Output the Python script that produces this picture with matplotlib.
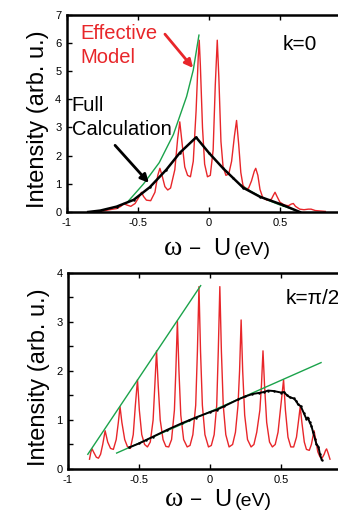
import matplotlib
matplotlib.use("Agg")
import matplotlib.pyplot as plt

plt.rcParams['font.family'] = ['Liberation Sans', 'DejaVu Sans']
plt.rcParams['axes.unicode_minus'] = False

RED = '#e8262a'
GREEN = '#1ba34b'

# ---- k = 0 panel ----
k0_eff_x = [-0.85, -0.75, -0.70, -0.65, -0.62, -0.60, -0.58, -0.55, -0.52, -0.49, -0.475,
            -0.46, -0.44, -0.41, -0.38, -0.36, -0.345, -0.33, -0.31, -0.29, -0.27, -0.24,
            -0.22, -0.205, -0.19, -0.17, -0.15, -0.13, -0.11, -0.09, -0.075, -0.068, -0.06,
            -0.045, -0.03, -0.01, 0.01, 0.03, 0.045, 0.059, 0.07, 0.085, 0.10, 0.12, 0.14,
            0.16, 0.18, 0.195, 0.21, 0.225, 0.24, 0.26, 0.28, 0.30, 0.32, 0.33, 0.345, 0.36,
            0.38, 0.41, 0.44, 0.455, 0.466, 0.48, 0.50, 0.53, 0.56, 0.58, 0.595, 0.61, 0.64,
            0.67, 0.70, 0.72, 0.75, 0.82]
k0_eff_y = [0.0, 0.03, 0.08, 0.12, 0.2, 0.3, 0.25, 0.2, 0.3, 0.55, 0.7,
            0.55, 0.42, 0.4, 0.7, 1.3, 1.55, 1.3, 0.9, 0.78, 0.85, 1.5,
            2.6, 3.2, 2.5, 1.6, 1.3, 1.25, 1.8, 3.6, 5.5, 6.1, 5.2,
            3.0, 1.7, 1.25, 1.3, 2.2, 4.5, 6.1, 4.8, 2.5, 1.6, 1.3, 1.35,
            1.8, 2.7, 3.25, 2.4, 1.4, 0.95, 0.8, 0.85, 1.1, 1.45, 1.55, 1.3, 0.8,
            0.5, 0.42, 0.45, 0.6, 0.7, 0.55, 0.35, 0.25, 0.22, 0.28, 0.3, 0.2, 0.1,
            0.08, 0.1, 0.1, 0.05, 0.02]

k0_full_x = [-0.85, -0.765, -0.65, -0.53, -0.416, -0.3, -0.205, -0.09, 0.0, 0.1, 0.172,
             0.242, 0.36, 0.52, 0.64]
k0_full_y = [0.0, 0.05, 0.19, 0.43, 0.88, 1.5, 2.1, 2.65, 2.1, 1.55, 1.2,
             0.86, 0.54, 0.25, 0.0]

k0_env_left_x = [-0.57, -0.46, -0.35, -0.25, -0.157, -0.11, -0.07]
k0_env_left_y = [0.37, 1.0, 1.75, 2.75, 4.1, 5.04, 6.28]
k0_env_right_x = [0.23, 0.3, 0.4, 0.5, 0.6]
k0_env_right_y = [0.95, 0.72, 0.45, 0.25, 0.08]

# ---- k = pi/2 panel ----
k2_eff_x = [-0.848, -0.838, -0.83, -0.82, -0.80, -0.785, -0.77, -0.755, -0.738, -0.72, -0.70,
            -0.68, -0.66, -0.645, -0.633, -0.62, -0.60, -0.58, -0.56, -0.54, -0.525, -0.51,
            -0.497, -0.48, -0.46, -0.44, -0.42, -0.40, -0.388, -0.376, -0.364, -0.35, -0.33,
            -0.31, -0.29, -0.27, -0.25, -0.24, -0.229, -0.218, -0.205, -0.185, -0.16, -0.14,
            -0.12, -0.10, -0.088, -0.077, -0.066, -0.053, -0.035, -0.01, 0.01, 0.03, 0.048,
            0.059, 0.07, 0.081, 0.094, 0.112, 0.135, 0.16, 0.18, 0.198, 0.209, 0.22, 0.231,
            0.245, 0.265, 0.29, 0.31, 0.33, 0.352, 0.363, 0.374, 0.385, 0.40, 0.42, 0.44,
            0.46, 0.48, 0.50, 0.519, 0.532, 0.55, 0.57, 0.59, 0.61, 0.625, 0.636, 0.648,
            0.665, 0.68, 0.70, 0.715, 0.725, 0.734, 0.745, 0.76, 0.775, 0.79, 0.805, 0.815,
            0.822, 0.832, 0.846]
k2_eff_y = [0.2, 0.35, 0.41, 0.35, 0.24, 0.22, 0.3, 0.5, 0.78, 0.55, 0.42,
            0.4, 0.6, 0.95, 1.27, 0.95, 0.6, 0.45, 0.42, 0.7, 1.3, 1.82,
            1.2, 0.7, 0.5, 0.45, 0.55, 1.0, 1.7, 2.41, 1.7, 1.0, 0.6,
            0.46, 0.45, 0.6, 1.2, 2.0, 3.02, 2.0, 1.1, 0.6, 0.45, 0.48,
            0.7, 1.3, 2.4, 3.72, 2.4, 1.3, 0.7, 0.45, 0.48, 0.7, 1.3,
            2.4, 3.72, 2.4, 1.3, 0.7, 0.45, 0.5, 0.75, 1.3, 2.0, 3.04, 2.0,
            1.1, 0.6, 0.45, 0.5, 0.75, 1.2, 1.7, 2.41, 1.7, 0.95, 0.55, 0.45,
            0.5, 0.75, 1.3, 1.82, 1.2, 0.65, 0.45, 0.45, 0.65, 1.0, 1.27, 0.95,
            0.55, 0.4, 0.38, 0.5, 0.65, 0.78, 0.6, 0.35, 0.25, 0.22, 0.3, 0.38,
            0.41, 0.33, 0.2]

k2_full_x = [-0.568, -0.5, -0.45, -0.4, -0.3, -0.2, -0.15, -0.1, 0.0, 0.05, 0.1, 0.2,
             0.25, 0.3, 0.343, 0.38, 0.41, 0.45, 0.5, 0.52, 0.545, 0.565, 0.59, 0.61,
             0.62, 0.64, 0.66, 0.68, 0.69, 0.703, 0.715, 0.727, 0.74, 0.75, 0.765,
             0.775, 0.787]
k2_full_y = [0.44, 0.52, 0.59, 0.66, 0.8, 0.93, 0.99, 1.05, 1.16, 1.21, 1.28, 1.42,
             1.48, 1.53, 1.55, 1.57, 1.6, 1.59, 1.56, 1.57, 1.5, 1.46, 1.44, 1.38,
             1.32, 1.28, 1.15, 1.02, 1.05, 0.95, 0.88, 0.75, 0.62, 0.51, 0.45,
             0.3, 0.19]

k2_env_upper_x = [-0.86, -0.065]
k2_env_upper_y = [0.3, 3.74]
k2_env_lower_x = [-0.657, 0.783]
k2_env_lower_y = [0.325, 2.17]

xticks = [-1, -0.5, 0, 0.5]
xtick_labels = ['-1', '-0.5', '0', '0.5']

fig = plt.figure(figsize=(3.38, 5.12), dpi=100)
ax1 = fig.add_axes([0.198, 0.586, 0.840, 0.385])
ax2 = fig.add_axes([0.201, 0.084, 0.840, 0.383])


def style_axes(ax, ymax):
    ax.set_xlim(-1, 1)
    ax.set_ylim(0, ymax)
    ax.set_xticks(xticks)
    ax.set_xticklabels(xtick_labels)
    for s in ax.spines.values():
        s.set_linewidth(1.8)
    ax.tick_params(direction='in', top=True, right=True, length=3.5, width=1,
                   labelsize=8, pad=4)
    ax.tick_params(which='minor', direction='in', top=True, right=True, length=3.5, width=1)
    ax.text(-0.102, 0.47, 'Intensity (arb. u.)', transform=ax.transAxes, rotation=90,
            ha='center', va='center', fontsize=17)


def x_label(ax, yfrac):
    tr = ax.get_xaxis_transform()
    ax.text(-0.25, yfrac, 'ω', transform=tr, ha='center', va='baseline', fontsize=20,
            family=['Liberation Serif', 'DejaVu Serif'], clip_on=False)
    ax.text(-0.099, yfrac, '−', transform=tr, ha='center', va='baseline', fontsize=15,
            clip_on=False)
    ax.text(0.092, yfrac, 'U', transform=tr, ha='center', va='baseline', fontsize=17,
            clip_on=False)
    ax.text(0.175, yfrac, '(eV)', transform=tr, ha='left', va='baseline', fontsize=14,
            clip_on=False)


# top panel
ax1.plot(k0_env_right_x, k0_env_right_y, color=GREEN, lw=1.0)
ax1.plot(k0_eff_x, k0_eff_y, color=RED, lw=1.0)
ax1.plot(k0_env_left_x, k0_env_left_y, color=GREEN, lw=1.0)
ax1.plot(k0_full_x, k0_full_y, color='black', lw=1.8, marker='.', markersize=1.5)
style_axes(ax1, 7)
ax1.set_yticks(range(0, 8))
x_label(ax1, -0.218)
ax1.text(0.52, 5.74, 'k=0', fontsize=15)
ax1.text(-0.908, 6.16, 'Effective', color=RED, fontsize=14.5)
ax1.text(-0.908, 5.29, 'Model', color=RED, fontsize=14.5)
ax1.annotate('', xy=(-0.099, 5.04), xytext=(-0.322, 6.39),
             arrowprops=dict(arrowstyle='-|>', color=RED, lw=2, mutation_scale=12))
ax1.text(-0.967, 3.59, 'Full', fontsize=14.5)
ax1.text(-0.967, 2.73, 'Calculation', fontsize=14.5)
ax1.annotate('', xy=(-0.41, 0.96), xytext=(-0.674, 2.44),
             arrowprops=dict(arrowstyle='-|>', color='black', lw=2, mutation_scale=12))

# bottom panel
ax2.plot(k2_eff_x, k2_eff_y, color=RED, lw=1.0)
ax2.plot(k2_env_upper_x, k2_env_upper_y, color=GREEN, lw=1.0)
ax2.plot(k2_env_lower_x, k2_env_lower_y, color=GREEN, lw=1.0)
ax2.plot(k2_full_x, k2_full_y, color='black', lw=1.4, marker='.', markersize=1.5)
style_axes(ax2, 4)
ax2.set_yticks(range(0, 5))
ax2.set_yticks([0.5, 1.5, 2.5, 3.5], minor=True)
x_label(ax2, -0.19)
ax2.text(0.53, 3.36, 'k=π/2', fontsize=15)

fig.savefig('out.png', dpi=100)
